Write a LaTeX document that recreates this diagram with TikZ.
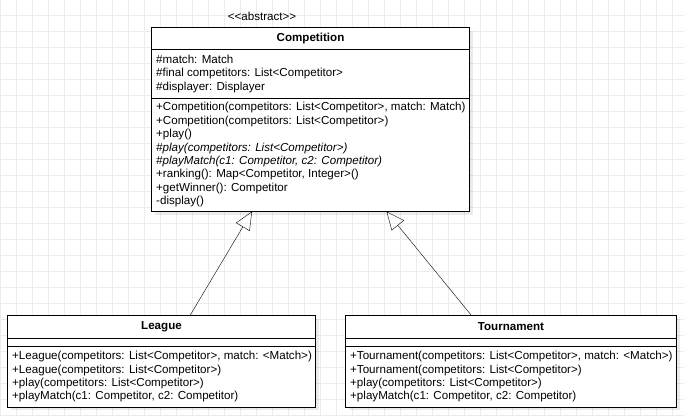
\documentclass[tikz,border=0pt]{standalone}
\usepackage{fontspec}
\setmainfont{Liberation Sans}
\usetikzlibrary{positioning,arrows.meta,backgrounds}

\definecolor{gridgray}{RGB}{236,236,236}
\newcommand{\memberfont}{\fontsize{11.6}{13.45}\selectfont}

\tikzset{
    classtitle/.style={draw, fill=white, outer sep=0pt, inner sep=0pt, font=\memberfont\bfseries},
    classpart/.style={draw, fill=white, outer sep=0pt, inner sep=0pt},
    members/.style={inner sep=0pt, align=left, anchor=west, font=\memberfont},
    inherit/.style={-{Triangle[open,length=18pt,width=16pt]}},
    classshadow/.style={fill=black, opacity=0.08},
}

\begin{document}
\begin{tikzpicture}[x=1pt,y=-1pt]
    \useasboundingbox (0,0) rectangle (684,416);

    % Competition
    \node (stereo) [font=\memberfont, inner sep=0pt] at (262,16) {<{}<abstract>{}>};
    \node (comp) [classtitle, minimum width=318pt, minimum height=22pt, anchor=north west] at (151.5,27.5) {Competition};
    \node (compAttr) [classpart, minimum width=318pt, minimum height=48.5pt, below=0pt of comp] {};
    \node (compMeth) [classpart, minimum width=318pt, minimum height=113.5pt, below=0pt of compAttr] {};
    \node (compAttrText) [members, right=4.5pt of compAttr.west] {\#match: Match\\\#final competitors: List<Competitor>\\\#displayer: Displayer};
    \node (compMethText) [members, right=4.5pt of compMeth.west] {+Competition(competitors: List<Competitor>, match: Match)\\
        +Competition(competitors: List<Competitor>)\\
        +play()\\
        \textit{\#play(competitors: List<Competitor>)}\\
        \textit{\#playMatch(c1: Competitor, c2: Competitor)}\\
        +ranking(): Map<Competitor, Integer>()\\
        +getWinner(): Competitor\\
        -display()};

    % League
    \node (league) [classtitle, minimum width=308pt, minimum height=22.5pt, anchor=north west] at (7.5,315.5) {League};
    \node (leagueAttr) [classpart, minimum width=308pt, minimum height=8.5pt, below=0pt of league] {};
    \node (leagueMeth) [classpart, minimum width=308pt, minimum height=60.5pt, below=0pt of leagueAttr] {};
    \node (leagueMethText) [members, right=4.5pt of leagueMeth.west] {+League(competitors: List<Competitor>, match: <Match>)\\
        +League(competitors: List<Competitor>)\\
        +play(competitors: List<Competitor>)\\
        +playMatch(c1: Competitor, c2: Competitor)};

    % Tournament
    \node (tourn) [classtitle, minimum width=331pt, minimum height=22.5pt, anchor=north west] at (345.5,315.5) {Tournament};
    \node (tournAttr) [classpart, minimum width=331pt, minimum height=8.5pt, below=0pt of tourn] {};
    \node (tournMeth) [classpart, minimum width=331pt, minimum height=60.5pt, below=0pt of tournAttr] {};
    \node (tournMethText) [members, right=4.5pt of tournMeth.west] {+Tournament(competitors: List<Competitor>, match: <Match>)\\
        +Tournament(competitors: List<Competitor>)\\
        +play(competitors: List<Competitor>)\\
        +playMatch(c1: Competitor, c2: Competitor)};

    % inheritance
    \draw[inherit] ([xshift=28.5pt]league.north) -- ([xshift=-58.5pt]compMeth.south);
    \draw[inherit] ([xshift=-39.5pt]tourn.north) -- ([xshift=76pt]compMeth.south);

    \begin{scope}[on background layer]
        \foreach \gx in {0,...,42}
            \draw[gridgray] (\gx*16+0.5,0) -- (\gx*16+0.5,416);
        \foreach \gy in {0,...,25}
            \draw[gridgray] (0,\gy*16+15.5) -- (684,\gy*16+15.5);
        \fill[classshadow] ([shift={(3,3)}]comp.north west) rectangle ([shift={(3,3)}]compMeth.south east);
        \fill[classshadow] ([shift={(3,3)}]league.north west) rectangle ([shift={(3,3)}]leagueMeth.south east);
        \fill[classshadow] ([shift={(3,3)}]tourn.north west) rectangle ([shift={(3,3)}]tournMeth.south east);
    \end{scope}
\end{tikzpicture}
\end{document}
